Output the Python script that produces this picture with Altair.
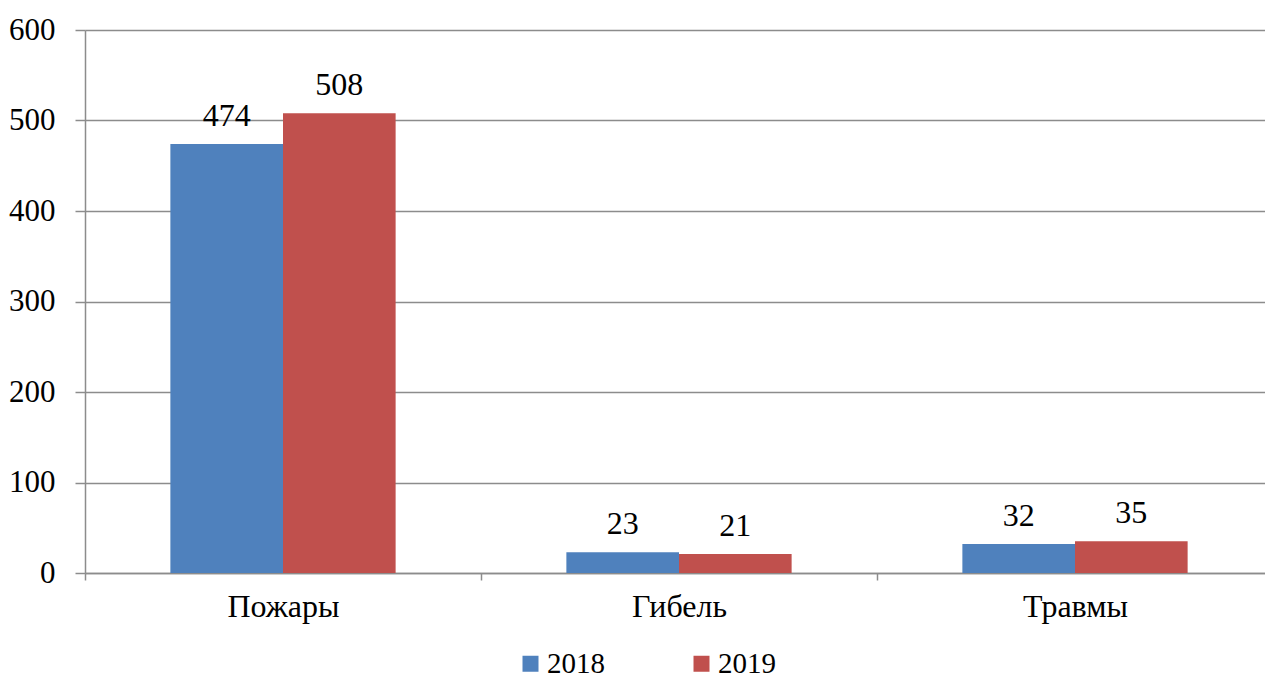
import altair as alt
import pandas as pd

categories = ["Пожары", "Гибель", "Травмы"]
years = ["2018", "2019"]
values_2018 = [474, 23, 32]
values_2019 = [508, 21, 35]
colors = ["#4F81BD", "#C0504D"]

rows = []
for cat, v18, v19 in zip(categories, values_2018, values_2019):
    rows.append({"category": cat, "year": years[0], "value": v18})
    rows.append({"category": cat, "year": years[1], "value": v19})
df = pd.DataFrame(rows)

FONT = "Times New Roman, Liberation Serif, serif"
GRID = "#8c8c8c"

x_enc = alt.X(
    "category:N",
    sort=categories,
    title=None,
    scale=alt.Scale(paddingInner=0, paddingOuter=0, range=[0, 1188]),
    axis=alt.Axis(
        labelAngle=0,
        labelFontSize=32,
        labelPadding=11,
        tickBand="extent",
        tickSize=7,
        grid=False,
    ),
)
xoff = alt.XOffset("year:N", sort=years, scale=alt.Scale(paddingInner=0, paddingOuter=0.758))
y_enc = alt.Y(
    "value:Q",
    title=None,
    scale=alt.Scale(domain=[0, 600], nice=False),
    axis=alt.Axis(
        values=[0, 100, 200, 300, 400, 500, 600],
        labelFontSize=31,
        labelPadding=20,
        tickSize=10,
        grid=True,
        gridColor=GRID,
        gridWidth=1.5,
    ),
)

bars = alt.Chart(df).mark_bar().encode(
    x=x_enc,
    xOffset=xoff,
    y=y_enc,
    color=alt.Color(
        "year:N",
        sort=years,
        scale=alt.Scale(domain=years, range=colors),
        legend=alt.Legend(
            title=None,
            orient="none",
            direction="horizontal",
            legendX=431,
            legendY=619,
            symbolType="square",
            symbolSize=256,
            symbolStrokeWidth=0,
            labelOffset=2,
            columnPadding=82,
        ),
    ),
)

labels = alt.Chart(df).mark_text(baseline="alphabetic", dy=-18).encode(
    x=alt.X("category:N", sort=categories),
    xOffset=alt.XOffset("year:N", sort=years),
    y="value:Q",
    text="value:Q",
)

chart = (
    alt.layer(bars, labels)
    .properties(
        width=1180,
        height=543,
        autosize=alt.AutoSizeParams(type="none"),
        padding={"left": 85, "top": 30, "right": 0, "bottom": 105},
    )
    .configure(background="white", font=FONT)
    .configure_view(stroke=None)
    .configure_axis(
        labelFont=FONT,
        labelColor="black",
        tickColor=GRID,
        tickWidth=1.5,
        domainColor=GRID,
        domainWidth=1.5,
    )
    .configure_legend(labelFont=FONT, labelFontSize=29, labelColor="black")
    .configure_text(font=FONT, fontSize=32, color="black")
)

chart.save("out.html", embed_options={"renderer": "svg", "actions": False})
